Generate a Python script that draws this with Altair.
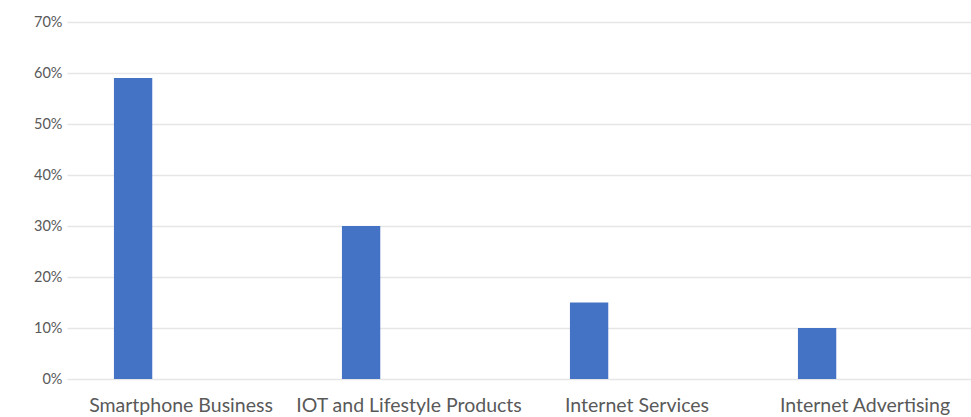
import altair as alt
import pandas as pd

categories = ["Smartphone Business", "IOT and Lifestyle Products", "Internet Services", "Internet Advertising"]
shares = [0.59, 0.30, 0.15, 0.10]
series = ["Share"] * 4

df = pd.DataFrame({"category": categories, "share": shares, "series": series})

chart = alt.Chart(df).mark_bar(color="#4472C4").encode(
    x=alt.X("category:N", sort=categories,
            scale=alt.Scale(paddingInner=0, paddingOuter=0, range=[0, 912]),
            axis=alt.Axis(title=None, labelAngle=0, domain=False, ticks=False,
                          labelFont="Lato", labelFontSize=19.5, labelColor="#595959",
                          labelPadding=17, grid=False, labelOverlap=False, labelBound=False,
                          labelLimit=400)),
    xOffset=alt.XOffset("series:N",
                        scale=alt.Scale(domain=["Share", "Blank"], paddingInner=0.6, paddingOuter=0.49)),
    y=alt.Y("share:Q", scale=alt.Scale(domain=[0, 0.7]),
            axis=alt.Axis(title=None, format=".0%", values=[0, 0.1, 0.2, 0.3, 0.4, 0.5, 0.6, 0.7],
                          domain=False, ticks=False, labelFont="Lato", labelFontSize=14.5,
                          labelColor="#595959", labelPadding=5, gridColor="#e6e6e6",
                          gridWidth=1.5)),
).properties(
    width=904, height=357,
    autosize=alt.AutoSizeParams(type="none"),
    padding={"left": 67, "top": 22, "right": 0, "bottom": 38},
).configure_view(stroke=None)

chart.save("out.html", embed_options={"renderer": "svg", "actions": False})
